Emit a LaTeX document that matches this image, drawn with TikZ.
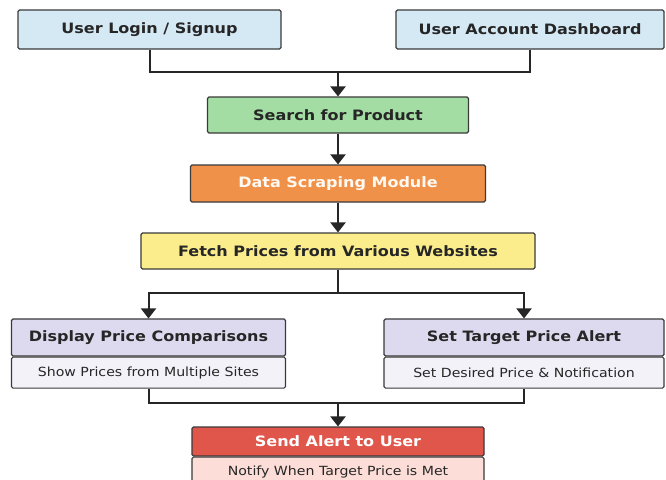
\documentclass[tikz,border=0pt]{standalone}
\usepackage{fontspec}
\setmainfont{DejaVu Sans}[FakeStretch=1.12]
\usetikzlibrary{positioning,arrows.meta}
\definecolor{boxline}{HTML}{3A3A3A}
\definecolor{loginblue}{HTML}{D5E9F5}
\definecolor{searchgreen}{HTML}{A3DDA3}
\definecolor{scrapeorange}{HTML}{F0914A}
\definecolor{fetchyellow}{HTML}{FBEC8C}
\definecolor{lavhead}{HTML}{DDDAEF}
\definecolor{lavbody}{HTML}{F3F2F9}
\definecolor{alerthead}{HTML}{E1564B}
\definecolor{alertbody}{HTML}{FCDDD7}
\tikzset{
  box/.style={draw=boxline, line width=1.1pt, rounded corners=1.5pt, inner sep=0pt,
    font=\bfseries\fontsize{14.3}{17}\selectfont, text=black!85},
  sub/.style={box, font=\fontsize{12.6}{15}\selectfont},
  link/.style={line width=2pt, draw=black!85},
  flow/.style={link, -{Triangle[width=15pt,length=10pt]}}
}
\begin{document}
\begin{tikzpicture}[x=1pt,y=-1pt]
			%%%%% START %%%%%
			\useasboundingbox[fill=white] (0,0) rectangle (666,479);
			
			\node[box, fill=loginblue, minimum width=263pt, minimum height=39pt] (login) at (149.5, 29.5) {User Login / Signup};
			\node[box, fill=loginblue, minimum width=268pt, minimum height=39pt] (dash) at (530, 29.5) {User Account Dashboard};
			
			\node[box, fill=searchgreen, minimum width=261pt, minimum height=36pt] (search) at (338, 115) {Search for Product};
			\node[box, fill=scrapeorange, text=white!95!orange, minimum width=295pt, minimum height=37pt] (scrape) at (338, 183.5) {Data Scraping Module};
			\node[box, fill=fetchyellow, minimum width=394pt, minimum height=36pt] (fetch) at (338, 251) {Fetch Prices from Various Websites};
			
			\node[box, fill=lavhead, minimum width=274pt, minimum height=37pt] (dhead) at (148.5, 337.5) {Display Price Comparisons};
			\node[sub, fill=lavbody, minimum width=274pt, minimum height=31pt, below=0pt of dhead] (dbody) {Show Prices from Multiple Sites};
			
			\node[box, fill=lavhead, minimum width=280pt, minimum height=37pt] (thead) at (524, 337.5) {Set Target Price Alert};
			\node[sub, fill=lavbody, minimum width=280pt, minimum height=31pt, below=0pt of thead] (tbody) {Set Desired Price \& Notification};
			
			\node[box, fill=alerthead, text=white, minimum width=292pt, minimum height=29pt] (ahead) at (338, 441.5) {Send Alert to User};
			\node[sub, fill=alertbody, minimum width=292pt, minimum height=30pt, below=0pt of ahead] (abody) {Notify When Target Price is Met};
			
			\coordinate (jtop) at (338, 72);
			\coordinate (jsplit) at (338, 293);
			\coordinate (jmerge) at (338, 403);
			
			\draw[link] (login.south) |- (jtop) -| (dash.south);
			\draw[flow] (jtop) -- (search.north);
			\draw[flow] (search.south) -- (scrape.north);
			\draw[flow] (scrape.south) -- (fetch.north);
			
			\draw[link] (fetch.south) -- (jsplit);
			\draw[flow] (jsplit) -| (dhead.north);
			\draw[flow] (jsplit) -| (thead.north);
			
			\draw[link] (dbody.south) |- (jmerge) -| (tbody.south);
			\draw[flow] (jmerge) -- (ahead.north);
			%%%%% END %%%%%
\end{tikzpicture}
\end{document}
